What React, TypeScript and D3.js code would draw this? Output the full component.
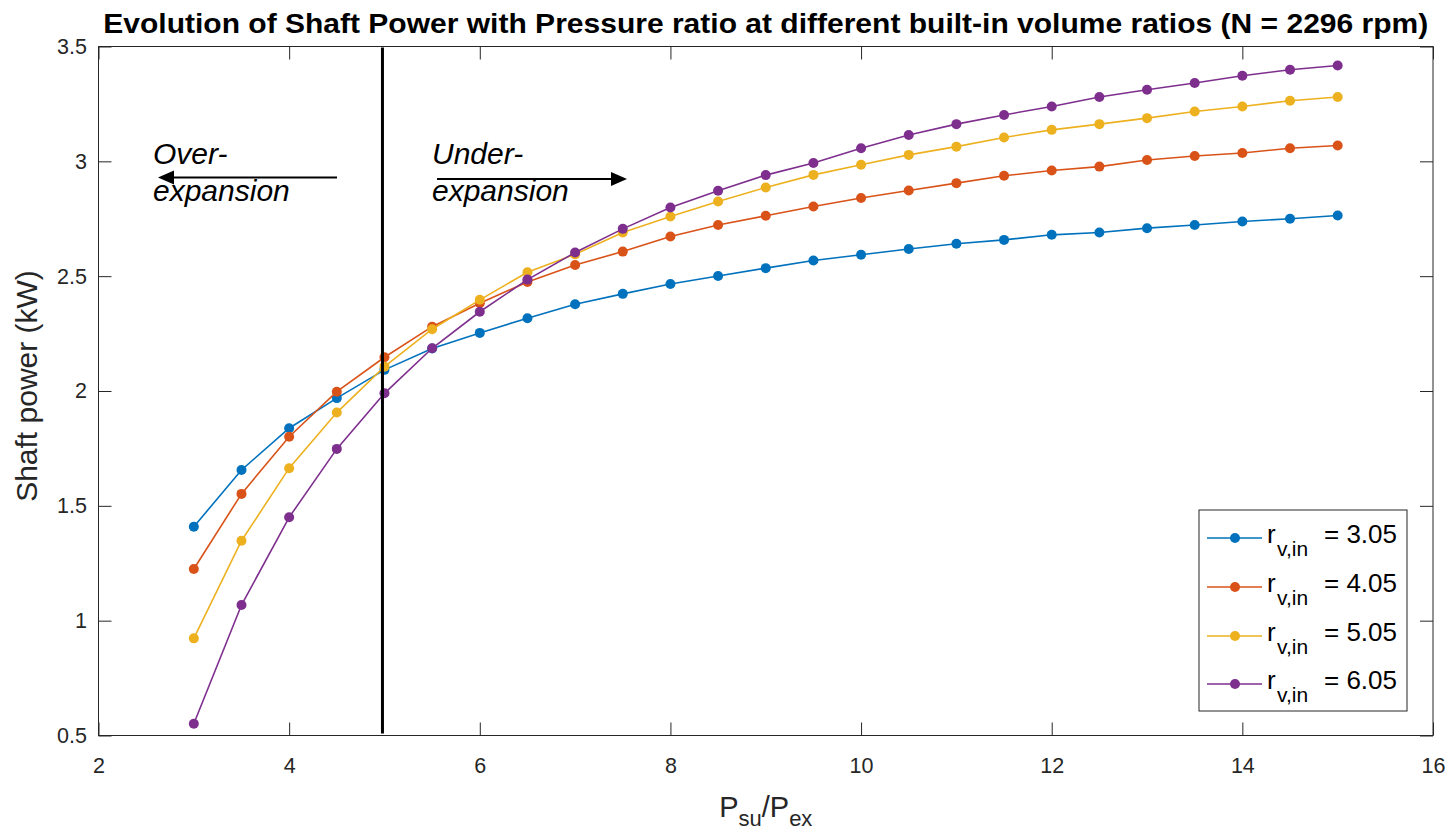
import React, { useEffect, useRef } from "react";
import * as d3 from "d3";

const pressureRatios = [3, 3.5, 4, 4.5, 5, 5.5, 6, 6.5, 7, 7.5, 8, 8.5, 9, 9.5, 10, 10.5, 11, 11.5, 12, 12.5, 13, 13.5, 14, 14.5, 15];

const power305 = [1.409, 1.656, 1.838, 1.969, 2.092, 2.185, 2.253, 2.317, 2.378, 2.423, 2.466, 2.501, 2.535, 2.568, 2.593, 2.618, 2.641, 2.658, 2.68, 2.69, 2.709, 2.723, 2.738, 2.75, 2.764];
const power405 = [1.225, 1.552, 1.801, 1.997, 2.147, 2.28, 2.382, 2.475, 2.549, 2.607, 2.673, 2.723, 2.763, 2.803, 2.84, 2.873, 2.905, 2.937, 2.96, 2.977, 3.006, 3.023, 3.036, 3.057, 3.069];
const power505 = [0.923, 1.348, 1.664, 1.906, 2.106, 2.269, 2.397, 2.517, 2.595, 2.69, 2.76, 2.825, 2.886, 2.941, 2.985, 3.028, 3.064, 3.104, 3.137, 3.162, 3.188, 3.217, 3.239, 3.264, 3.28];
const power605 = [0.551, 1.068, 1.45, 1.748, 1.99, 2.186, 2.345, 2.485, 2.603, 2.706, 2.799, 2.872, 2.94, 2.993, 3.057, 3.115, 3.162, 3.202, 3.239, 3.28, 3.312, 3.341, 3.373, 3.399, 3.417];

const seriesLabels = ["3.05", "4.05", "5.05", "6.05"];
const seriesColors = ["#0072BD", "#D95319", "#EDB120", "#7E2F8E"];
const seriesValues = [power305, power405, power505, power605];

const xTicks = [2, 4, 6, 8, 10, 12, 14, 16];
const yTicks = [0.5, 1, 1.5, 2, 2.5, 3, 3.5];
const boundaryRatio = 5;

const titleText = "Evolution of Shaft Power with Pressure ratio at different built-in volume ratios (N = 2296 rpm)";

const W = 1455;
const H = 835;
const FONT = "'Liberation Sans', Arial, Helvetica, sans-serif";

export default function App() {
  const ref = useRef<SVGSVGElement | null>(null);

  useEffect(() => {
    const svg = d3.select(ref.current);
    svg.selectAll("*").remove();

    const left = 98.5, right = 1433, top = 46.5, bottom = 735.5;
    const x = d3.scaleLinear().domain([2, 16]).range([left, right]);
    const y = d3.scaleLinear().domain([0.5, 3.5]).range([bottom, top]);
    const axisColor = "#262626";
    const tickLen = 13;

    svg.append("rect").attr("width", W).attr("height", H).attr("fill", "#fff");

    // title
    svg.append("text")
      .attr("x", (left + right) / 2)
      .attr("y", 33)
      .attr("text-anchor", "middle")
      .attr("font-family", FONT)
      .attr("font-weight", "bold")
      .attr("font-size", 27)
      .attr("fill", "#000")
      .attr("textLength", 1325)
      .attr("lengthAdjust", "spacingAndGlyphs")
      .text(titleText);

    // axes
    const gx = svg.append("g").attr("transform", `translate(0,${bottom})`)
      .call(d3.axisBottom(x).tickValues(xTicks).tickSizeInner(-tickLen).tickSizeOuter(0).tickPadding(22.5).tickFormat(d3.format("d") as any));
    const gxt = svg.append("g").attr("transform", `translate(0,${top})`)
      .call(d3.axisTop(x).tickValues(xTicks).tickSizeInner(-tickLen).tickSizeOuter(0).tickFormat(() => ""));
    const gy = svg.append("g").attr("transform", `translate(${left},0)`)
      .call(d3.axisLeft(y).tickValues(yTicks).tickSizeInner(-tickLen).tickSizeOuter(0).tickPadding(11.5).tickFormat((d: any) => String(d)));
    const gyr = svg.append("g").attr("transform", `translate(${right},0)`)
      .call(d3.axisRight(y).tickValues(yTicks).tickSizeInner(-tickLen).tickSizeOuter(0).tickFormat(() => ""));
    [gx, gxt, gy, gyr].forEach((g) => {
      g.select(".domain").remove();
      g.selectAll(".tick line").attr("stroke", axisColor).attr("stroke-width", 1);
      g.selectAll(".tick text").attr("font-family", FONT).attr("font-size", 21.5).attr("fill", axisColor);
    });

    svg.append("rect")
      .attr("x", left).attr("y", top)
      .attr("width", right - left).attr("height", bottom - top)
      .attr("fill", "none").attr("stroke", axisColor).attr("stroke-width", 1);

    // axis labels
    svg.append("text")
      .attr("transform", `translate(37,386) rotate(-90)`)
      .attr("text-anchor", "middle")
      .attr("font-family", FONT)
      .attr("font-size", 30)
      .attr("fill", axisColor)
      .text("Shaft power (kW)");

    const xl = svg.append("text")
      .attr("x", (left + right) / 2)
      .attr("y", 817)
      .attr("text-anchor", "middle")
      .attr("font-family", FONT)
      .attr("font-size", 29)
      .attr("fill", axisColor);
    xl.append("tspan").text("P");
    xl.append("tspan").attr("font-size", 22).attr("dy", 9).text("su");
    xl.append("tspan").attr("dy", -9).text("/P");
    xl.append("tspan").attr("font-size", 22).attr("dy", 9).text("ex");

    // series
    const line = d3.line<number>()
      .x((_, i) => x(pressureRatios[i]))
      .y((d) => y(d));
    seriesValues.forEach((vals, si) => {
      const g = svg.append("g");
      g.append("path")
        .attr("d", line(vals) as string)
        .attr("fill", "none")
        .attr("stroke", seriesColors[si])
        .attr("stroke-width", 1.6);
      g.selectAll("circle").data(vals).enter().append("circle")
        .attr("cx", (_, i) => x(pressureRatios[i]))
        .attr("cy", (d) => y(d))
        .attr("r", 5)
        .attr("fill", seriesColors[si]);
    });

    // boundary line
    svg.append("line")
      .attr("x1", x(boundaryRatio) - 2).attr("x2", x(boundaryRatio) - 2)
      .attr("y1", top + 1).attr("y2", bottom - 2)
      .attr("stroke", "#000").attr("stroke-width", 3);

    // annotations
    const ann = (tx: number, l1: string, l2: string) => {
      const t = svg.append("text")
        .attr("font-family", FONT)
        .attr("font-style", "italic")
        .attr("font-size", 30)
        .attr("fill", "#000");
      t.append("tspan").attr("x", tx).attr("y", 164).text(l1);
      t.append("tspan").attr("x", tx).attr("y", 201).text(l2);
    };
    ann(153, "Over-", "expansion");
    ann(432, "Under-", "expansion");

    const arrow = (x1: number, x2: number, yy: number) => {
      const dir = x2 > x1 ? 1 : -1;
      const headL = 16, headW = 7;
      svg.append("line")
        .attr("x1", x1).attr("x2", x2 - dir * headL)
        .attr("y1", yy).attr("y2", yy)
        .attr("stroke", "#000").attr("stroke-width", 2);
      svg.append("path")
        .attr("d", `M${x2},${yy} L${x2 - dir * headL},${yy - headW} L${x2 - dir * headL},${yy + headW} Z`)
        .attr("fill", "#000");
    };
    arrow(337, 158, 177.5);
    arrow(437, 627, 179);

    // legend
    const lx = 1199, ly = 510, lw = 208, lh = 201;
    svg.append("rect")
      .attr("x", lx).attr("y", ly).attr("width", lw).attr("height", lh)
      .attr("fill", "#fff").attr("stroke", axisColor).attr("stroke-width", 1);
    const rowY = [538, 587, 636, 684];
    seriesLabels.forEach((lab, i) => {
      const cy = rowY[i];
      svg.append("line")
        .attr("x1", 1207).attr("x2", 1262).attr("y1", cy).attr("y2", cy)
        .attr("stroke", seriesColors[i]).attr("stroke-width", 1.6);
      svg.append("circle").attr("cx", 1235).attr("cy", cy).attr("r", 5).attr("fill", seriesColors[i]);
      const t = svg.append("text")
        .attr("font-family", FONT)
        .attr("font-size", 26)
        .attr("fill", "#000");
      t.append("tspan").attr("x", 1267).attr("y", cy + 5).text("r");
      t.append("tspan").attr("x", 1277).attr("y", cy + 18).attr("font-size", 21).text("v,in");
      t.append("tspan").attr("x", 1324).attr("y", cy + 5).text(`= ${lab}`);
    });
  }, []);

  return (
    <svg
      ref={ref}
      width={W}
      height={H}
      style={{ position: "absolute", left: 0, top: 0, display: "block" }}
    />
  );
}
